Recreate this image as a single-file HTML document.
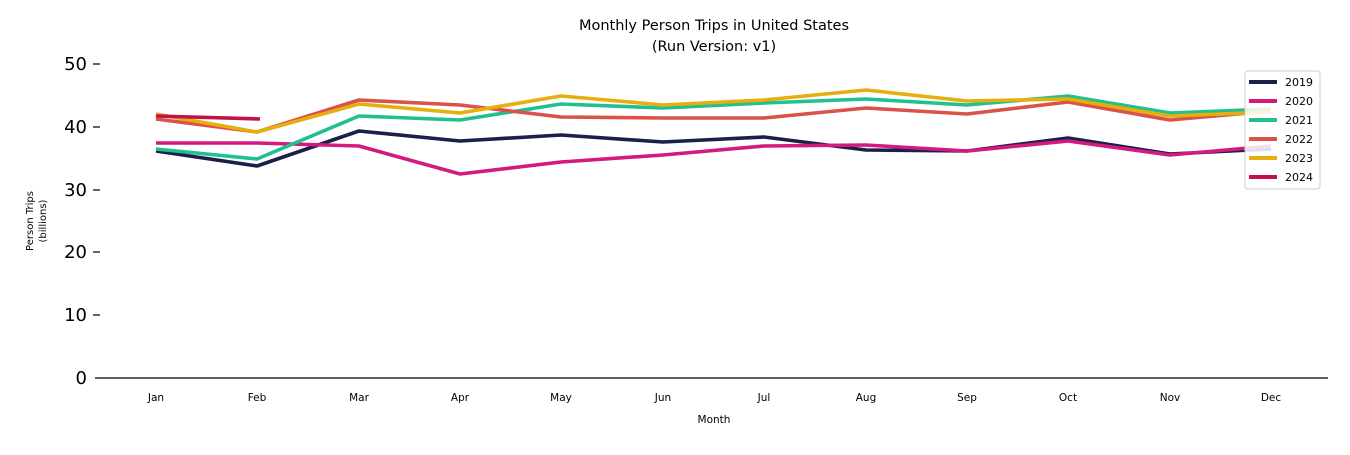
<!DOCTYPE html><html><head><style>body{margin:0;background:#fff}svg{font-family:"DejaVu Sans","Liberation Sans",sans-serif}</style></head><body>
<svg width="1350" height="450" xmlns="http://www.w3.org/2000/svg">
<text x="714" y="30" font-size="14.5" text-anchor="middle">Monthly Person Trips in United States</text>
<text x="714" y="51" font-size="14.5" text-anchor="middle">(Run Version: v1)</text>
<line x1="95" y1="378" x2="1328" y2="378" stroke="#000" stroke-width="1.3"/>
<g font-size="18" text-anchor="end">
<text x="87" y="384">0</text><text x="87" y="321">10</text><text x="87" y="258">20</text><text x="87" y="196">30</text><text x="87" y="133">40</text><text x="87" y="70">50</text></g>
<g stroke="#000" stroke-width="1.2"><line x1="93" y1="315" x2="100" y2="315"/><line x1="93" y1="252" x2="100" y2="252"/><line x1="93" y1="190" x2="100" y2="190"/><line x1="93" y1="127" x2="100" y2="127"/><line x1="93" y1="64" x2="100" y2="64"/></g>
<g font-size="10.5" text-anchor="middle">
<text x="156" y="401">Jan</text><text x="257" y="401">Feb</text><text x="359" y="401">Mar</text><text x="460" y="401">Apr</text><text x="561" y="401">May</text><text x="663" y="401">Jun</text><text x="764" y="401">Jul</text><text x="866" y="401">Aug</text><text x="967" y="401">Sep</text><text x="1068" y="401">Oct</text><text x="1170" y="401">Nov</text><text x="1271" y="401">Dec</text>
<text x="714" y="423">Month</text></g>
<text transform="translate(33,221) rotate(-90)" font-size="10" text-anchor="middle">Person Trips</text>
<text transform="translate(46,221) rotate(-90)" font-size="10" text-anchor="middle">(billions)</text>
<g fill="none" stroke-width="3.6" stroke-linejoin="round">
<polyline stroke="#1b1f4b" points="156,151 257,166 359,131 460,141 561,135 663,142 764,137 866,150 967,151 1068,138 1170,154 1271,149"/>
<polyline stroke="#d4197f" points="156,143 257,143 359,146 460,174 561,162 663,155 764,146 866,145 967,151 1068,141 1170,155 1271,146"/>
<polyline stroke="#20c08f" points="156,149 257,159 359,116 460,120 561,104 663,108 764,103 866,99 967,105 1068,96 1170,113 1271,109"/>
<polyline stroke="#db524a" points="156,119 257,132 359,100 460,105 561,117 663,118 764,118 866,108 967,114 1068,102 1170,120 1271,111"/>
<polyline stroke="#e5b00e" points="156,114 257,132 359,104 460,113 561,96 663,105 764,100 866,90 967,101 1068,99 1170,116 1271,112"/>
<polyline stroke="#c0124f" points="156,116 260,119"/>
</g>
<rect x="1245" y="71" width="75" height="118" rx="3" fill="#fff" fill-opacity="0.85" stroke="#ccc"/>
<g stroke-width="4">
<line x1="1249" y1="82" x2="1277" y2="82" stroke="#1b1f4b"/>
<line x1="1249" y1="101" x2="1277" y2="101" stroke="#d4197f"/>
<line x1="1249" y1="120" x2="1277" y2="120" stroke="#20c08f"/>
<line x1="1249" y1="139" x2="1277" y2="139" stroke="#db524a"/>
<line x1="1249" y1="158" x2="1277" y2="158" stroke="#e5b00e"/>
<line x1="1249" y1="177" x2="1277" y2="177" stroke="#c0124f"/></g>
<g font-size="11"><text x="1285" y="86">2019</text><text x="1285" y="105">2020</text><text x="1285" y="124">2021</text><text x="1285" y="143">2022</text><text x="1285" y="162">2023</text><text x="1285" y="181">2024</text></g>
</svg></body></html>
